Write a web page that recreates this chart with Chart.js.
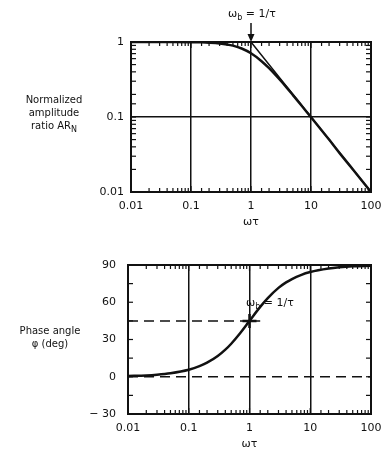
<!DOCTYPE html>
<html lang="en">
<head>
    <meta charset="UTF-8">
    <title>Frequency response of a first-order system</title>
    <script src="https://cdn.jsdelivr.net/npm/chart.js@4/dist/chart.umd.min.js"></script>
    <style>
        body {
            margin: 0;
            background: #fff;
            width: 381px;
            height: 452px;
            overflow: hidden;
            position: relative;
            font-family: 'DejaVu Sans', sans-serif;
            color: #111;
        }
        canvas { position: absolute; left: 0; }
        #ampCanvas { top: 0; }
        #phaseCanvas { top: 230px; }
        .label {
            position: absolute;
            font-size: 10px;
            line-height: 13px;
            text-align: center;
        }
        .label sub { font-size: 8px; vertical-align: -3px; line-height: 0; }
    </style>
</head>
<body>
    <canvas id="ampCanvas" width="381" height="230"></canvas>
    <canvas id="phaseCanvas" width="381" height="222"></canvas>

    <div class="label" style="left:4px; width:100px; top:93px;">Normalized<br>amplitude<br>ratio AR<sub>N</sub></div>
    <div class="label" style="left:4px; width:92px; top:324px;">Phase angle<br>&phi; (deg)</div>
    <div class="label" style="left:222px; width:60px; top:7px; font-size:11px;">&omega;<sub>b</sub> = 1/&tau;</div>
    <div class="label" style="left:246px; top:296px; font-size:11px;">&omega;<sub>b</sub> = 1/&tau;</div>

    <script>
        // values
        const omegaTau = [0.01, 0.02, 0.03, 0.05, 0.1, 0.15, 0.2, 0.3, 0.4, 0.5, 0.7, 1, 1.5, 2, 3, 4, 5, 7, 10, 20, 30, 50, 100];
        const ampRatio = [1.0, 1.0, 1.0, 0.999, 0.995, 0.989, 0.98, 0.958, 0.928, 0.894, 0.819, 0.707, 0.555, 0.447, 0.316, 0.243, 0.196, 0.141, 0.0995, 0.05, 0.033, 0.02, 0.01];
        const phaseDeg = [0.6, 1.1, 1.7, 2.9, 5.7, 8.5, 11.3, 16.7, 21.8, 26.6, 35, 45, 56.3, 63.4, 71.6, 76, 78.7, 81.9, 84.3, 87.1, 88.1, 88.9, 89.4];

        // asymptotes and reference lines
        const asymX = [0.01, 1, 100];
        const asymY = [1, 1, 0.01];
        const halfX = [0.01, 1.5];
        const halfY = [45, 45];
        const zeroX = [0.01, 100];
        const zeroY = [0, 0];
        const breakX = [1];
        const breakPhase = [45];

        // tick labels
        const xTickVals = [0.01, 0.1, 1, 10, 100];
        const xTickLabels = ['0.01', '0.1', '1', '10', '100'];
        const ampTickVals = [0.01, 0.1, 1];
        const ampTickLabels = ['0.01', '0.1', '1'];
        const phaseTickVals = [-30, 0, 30, 60, 90];
        const phaseTickLabels = ['\u2212 30', '0', '30', '60', '90'];

        const ink = '#111';
        const tickFont = { family: 'DejaVu Sans', size: 11 };

        function pts(xs, ys) {
            return xs.map((x, i) => ({ x: x, y: ys[i] }));
        }
        function near(a, b) {
            return Math.abs(a - b) < 1e-6 * Math.max(1, Math.abs(b));
        }
        function isDecade(v) {
            const l = Math.log10(v);
            return Math.abs(l - Math.round(l)) < 1e-6;
        }
        function labelFor(vals, labels) {
            return function (value) {
                const i = vals.findIndex(v => near(value, v));
                return i >= 0 ? labels[i] : '';
            };
        }
        function innerGrid(vals) {
            // grid lines only at the inner decades
            return ctx => {
                const v = ctx.tick ? ctx.tick.value : NaN;
                const inner = vals.slice(1, -1).some(d => near(v, d));
                return inner ? ink : 'rgba(0,0,0,0)';
            };
        }

        // small tick marks pointing into the plot, plus a full frame
        const innerTicks = {
            id: 'innerTicks',
            afterDraw(chart) {
                const { ctx, chartArea: a, scales } = chart;
                ctx.save();
                ctx.strokeStyle = ink;
                ctx.lineWidth = 1.2;
                function seg(x1, y1, x2, y2) {
                    ctx.beginPath(); ctx.moveTo(x1, y1); ctx.lineTo(x2, y2); ctx.stroke();
                }
                scales.x.ticks.forEach(t => {
                    const px = scales.x.getPixelForValue(t.value);
                    const len = isDecade(t.value) ? 6 : 4;
                    seg(px, a.bottom, px, a.bottom - len);
                    seg(px, a.top, px, a.top + len);
                });
                const y = scales.y;
                y.ticks.forEach(t => {
                    const py = y.getPixelForValue(t.value);
                    const len = 5;
                    seg(a.left, py, a.left + len, py);
                    seg(a.right, py, a.right - len, py);
                });
                ctx.lineWidth = 2;
                ctx.strokeRect(a.left, a.top, a.width, a.height);
                ctx.restore();
            }
        };

        // arrow pointing at the break frequency on the amplitude plot
        const breakArrow = {
            id: 'breakArrow',
            afterDraw(chart) {
                const { ctx, chartArea: a, scales } = chart;
                const px = scales.x.getPixelForValue(breakX[0]);
                ctx.save();
                ctx.strokeStyle = ink;
                ctx.fillStyle = ink;
                ctx.lineWidth = 1.5;
                ctx.beginPath();
                ctx.moveTo(px, 23);
                ctx.lineTo(px, a.top - 4);
                ctx.stroke();
                ctx.beginPath();
                ctx.moveTo(px - 3.5, a.top - 8);
                ctx.lineTo(px + 3.5, a.top - 8);
                ctx.lineTo(px, a.top);
                ctx.closePath();
                ctx.fill();
                ctx.restore();
            }
        };

        function xAxis() {
            return {
                type: 'logarithmic',
                min: 0.01,
                max: 100,
                afterFit: s => {
                    s.height = 38;
                    s.paddingLeft = 0;
                    s.paddingRight = 0;
                },
                grid: { color: innerGrid(xTickVals), lineWidth: 1.5, drawTicks: false },
                border: { display: false },
                ticks: {
                    autoSkip: false,
                    maxRotation: 0,
                    padding: 8,
                    color: ink,
                    font: tickFont,
                    callback: labelFor(xTickVals, xTickLabels)
                },
                title: {
                    display: true,
                    text: '\u03c9\u03c4',
                    color: ink,
                    font: { family: 'DejaVu Sans', size: 11 },
                    padding: { top: 0, bottom: 1 }
                }
            };
        }

        const lineStyle = {
            borderColor: ink,
            backgroundColor: ink,
            pointRadius: 0,
            showLine: true,
            fill: false
        };

        new Chart(document.getElementById('ampCanvas'), {
            type: 'scatter',
            data: {
                datasets: [
                    Object.assign({ data: pts(omegaTau, ampRatio), borderWidth: 2.5, cubicInterpolationMode: 'monotone' }, lineStyle),
                    Object.assign({ data: pts(asymX, asymY), borderWidth: 1.5 }, lineStyle)
                ]
            },
            options: {
                responsive: false,
                animation: false,
                layout: { padding: { left: 0, right: 10, top: 42, bottom: 0 } },
                plugins: { legend: { display: false }, tooltip: { enabled: false } },
                scales: {
                    x: xAxis(),
                    y: {
                        type: 'logarithmic',
                        min: 0.01,
                        max: 1,
                        afterFit: s => { s.width = 131; },
                        grid: { color: innerGrid(ampTickVals), lineWidth: 1.5, drawTicks: false },
                        border: { display: false },
                        ticks: {
                            autoSkip: false,
                            padding: 7,
                            color: ink,
                            font: tickFont,
                            callback: labelFor(ampTickVals, ampTickLabels)
                        }
                    }
                }
            },
            plugins: [innerTicks, breakArrow]
        });

        new Chart(document.getElementById('phaseCanvas'), {
            type: 'scatter',
            data: {
                datasets: [
                    Object.assign({ data: pts(omegaTau, phaseDeg), borderWidth: 2.5, cubicInterpolationMode: 'monotone' }, lineStyle),
                    Object.assign({ data: pts(halfX, halfY), borderWidth: 1.5, borderDash: [10, 6] }, lineStyle),
                    Object.assign({ data: pts(zeroX, zeroY), borderWidth: 1.5, borderDash: [10, 6] }, lineStyle),
                    {
                        data: pts(breakX, breakPhase),
                        pointStyle: 'cross',
                        pointRadius: 7,
                        borderWidth: 2.5,
                        borderColor: ink,
                        showLine: false
                    }
                ]
            },
            options: {
                responsive: false,
                animation: false,
                layout: { padding: { left: 0, right: 10, top: 35, bottom: 0 } },
                plugins: { legend: { display: false }, tooltip: { enabled: false } },
                scales: {
                    x: xAxis(),
                    y: {
                        type: 'linear',
                        min: -30,
                        max: 90,
                        afterFit: s => { s.width = 128; },
                        grid: { display: false },
                        border: { display: false },
                        ticks: {
                            stepSize: 15,
                            autoSkip: false,
                            padding: 4,
                            color: ink,
                            font: tickFont,
                            callback: labelFor(phaseTickVals, phaseTickLabels)
                        }
                    }
                }
            },
            plugins: [innerTicks]
        });
    </script>
</body>
</html>
